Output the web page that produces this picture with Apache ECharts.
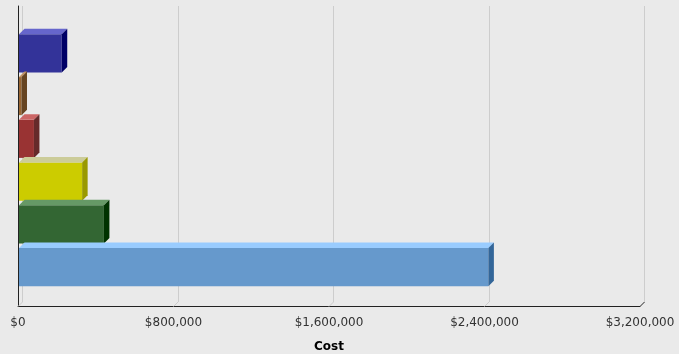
<!DOCTYPE html>
<html>
<head>
<meta charset="utf-8">
<script src="https://cdn.jsdelivr.net/npm/echarts@6/dist/echarts.min.js"></script>
<style>
  html, body { margin: 0; padding: 0; background: #eaeaea; }
  #chart { width: 679px; height: 354px; }
</style>
</head>
<body>
<div id="chart"></div>
<script>
// Cost per item, top to bottom
const categories = ['Item 1', 'Item 2', 'Item 3', 'Item 4', 'Item 5', 'Item 6'];
const costs = [225000, 18000, 82000, 330000, 442000, 2420000];
// Axis ticks ($)
const tickValues = [0, 800000, 1600000, 2400000, 3200000];

const AXIS_MAX = 3200000;
const AXIS_STEP = 800000;
const DEPTH = 5.5;      // bar extrusion
const WALL = 4.5;       // back-wall offset

// front / top / side shades for each bar
const palette = [
  ['#333399', '#6666cc', '#000066'],
  ['#996633', '#c09060', '#664422'],
  ['#993333', '#cc6666', '#662a2a'],
  ['#cccc00', '#cccc99', '#999900'],
  ['#336633', '#669966', '#003300'],
  ['#6699cc', '#99ccff', '#336699']
];

const fontFamily = 'DejaVu Sans, sans-serif';
const chart = echarts.init(document.getElementById('chart'));

const hiddenValueAxis = (gridIndex) => ({
  type: 'value', gridIndex, min: 0, max: AXIS_MAX, interval: AXIS_STEP,
  axisLine: { show: false }, axisTick: { show: false },
  axisLabel: { show: false }, splitLine: { show: false }
});

chart.setOption({
  backgroundColor: '#eaeaea',
  animation: false,
  grid: [
    // front plane: axis line and labels
    { left: 18, right: 39, top: 6, bottom: 47.5, outerBoundsMode: 'none', containLabel: false },
    // bars
    { left: 18, right: 39, top: 32, bottom: 65.5, outerBoundsMode: 'none', containLabel: false },
    // back wall with gridlines
    { left: 18 + WALL, right: 39 - WALL, top: 6, bottom: 47.5 + WALL, outerBoundsMode: 'none', containLabel: false }
  ],
  xAxis: [
    {
      type: 'value', gridIndex: 0, min: 0, max: AXIS_MAX, interval: AXIS_STEP,
      name: 'Cost', nameLocation: 'middle', nameGap: 34,
      nameTextStyle: { fontFamily, fontSize: 12, fontWeight: 'bold', color: '#000' },
      axisLine: { show: true, lineStyle: { color: '#222', width: 1 } },
      axisTick: { show: false },
      axisLabel: {
        margin: 10, fontFamily, fontSize: 12, color: '#333',
        formatter: v => '$' + v.toLocaleString('en-US')
      },
      splitLine: { show: false }
    },
    hiddenValueAxis(1),
    Object.assign(hiddenValueAxis(2), {
      splitLine: { show: true, lineStyle: { color: '#cdcdcd', width: 1 } }
    })
  ],
  yAxis: [
    {
      type: 'value', gridIndex: 0, min: 0, max: 1,
      axisLine: { show: true, onZero: false, lineStyle: { color: '#222', width: 1 } },
      axisTick: { show: false }, axisLabel: { show: false }, splitLine: { show: false }
    },
    {
      type: 'category', gridIndex: 1, data: categories, inverse: true,
      axisLine: { show: false }, axisTick: { show: false }, axisLabel: { show: false }
    },
    {
      type: 'value', gridIndex: 2, min: 0, max: 1,
      axisLine: { show: false }, axisTick: { show: false },
      axisLabel: { show: false }, splitLine: { show: false }
    }
  ],
  series: [
    {
      // diagonal links between the back wall and the front axis
      type: 'custom', xAxisIndex: 0, yAxisIndex: 0, silent: true, z: 1,
      data: tickValues.map(v => [v, 0]),
      renderItem: (params, api) => {
        const p = api.coord([api.value(0), 0]);
        return {
          type: 'line',
          shape: { x1: p[0], y1: p[1], x2: p[0] + WALL, y2: p[1] - WALL },
          style: { stroke: api.value(0) === AXIS_MAX ? '#222' : '#cdcdcd', lineWidth: 1 }
        };
      }
    },
    {
      type: 'custom', xAxisIndex: 1, yAxisIndex: 1, silent: true, z: 3,
      data: costs.map((v, i) => [v, i]),
      renderItem: (params, api) => {
        const i = api.value(1);
        const start = api.coord([0, i]);
        const end = api.coord([api.value(0), i]);
        const band = api.size([0, 1])[1];
        const h = band * 0.89;
        const x0 = start[0] + 1, x1 = end[0];
        const y0 = start[1] - h / 2, y1 = start[1] + h / 2;
        const c = palette[params.dataIndex];
        const d = DEPTH;
        return {
          type: 'group',
          children: [
            { type: 'rect', shape: { x: x0, y: y0, width: x1 - x0, height: h }, style: { fill: c[0] } },
            { type: 'polygon', shape: { points: [[x0, y0], [x1, y0], [x1 + d, y0 - d], [x0 + d, y0 - d]] }, style: { fill: c[1] } },
            { type: 'polygon', shape: { points: [[x1, y0], [x1 + d, y0 - d], [x1 + d, y1 - d], [x1, y1]] }, style: { fill: c[2] } }
          ]
        };
      }
    }
  ]
});
</script>
</body>
</html>
